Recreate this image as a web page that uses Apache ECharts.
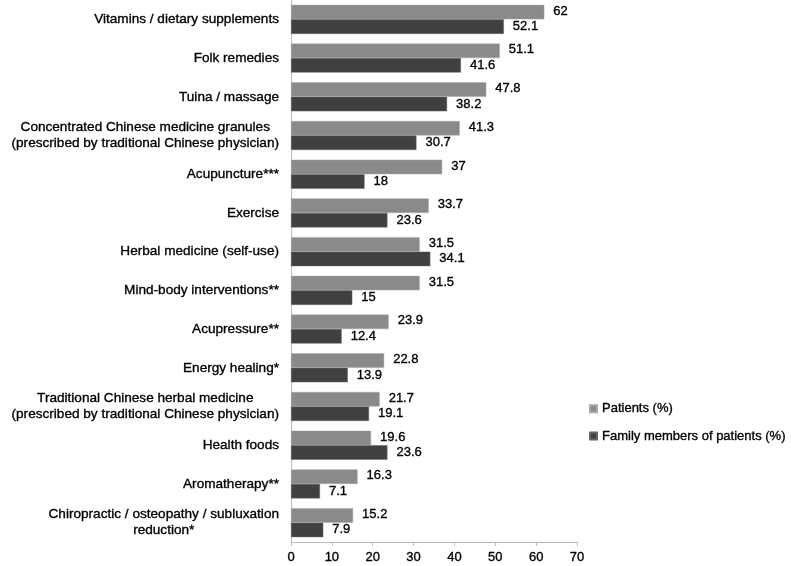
<!DOCTYPE html>
<html><head><meta charset="utf-8">
<script src="https://cdn.jsdelivr.net/npm/echarts@6/dist/echarts.min.js"></script>
<style>html,body{margin:0;padding:0;background:#fff}#c{width:791px;height:566px}</style>
</head><body><div id="c"></div>
<script>
const categories = [
  "Vitamins / dietary supplements",
  "Folk remedies",
  "Tuina / massage",
  "Concentrated Chinese medicine granules\n(prescribed by traditional Chinese physician)",
  "Acupuncture***",
  "Exercise",
  "Herbal medicine (self-use)",
  "Mind-body interventions**",
  "Acupressure**",
  "Energy healing*",
  "Traditional Chinese herbal medicine\n(prescribed by traditional Chinese physician)",
  "Health foods",
  "Aromatherapy**",
  "Chiropractic / osteopathy / subluxation\nreduction*"
];
const patients = [62, 51.1, 47.8, 41.3, 37, 33.7, 31.5, 31.5, 23.9, 22.8, 21.7, 19.6, 16.3, 15.2];
const family = [52.1, 41.6, 38.2, 30.7, 18, 23.6, 34.1, 15, 12.4, 13.9, 19.1, 23.6, 7.1, 7.9];
const xTicks = [0, 10, 20, 30, 40, 50, 60, 70];

const font = "Liberation Sans, Arial, sans-serif";
const heavy = {textBorderColor: '#000', textBorderWidth: 0.35};
const chart = echarts.init(document.getElementById('c'));
chart.setOption({
  animation: false,
  textStyle: {fontFamily: font},
  grid: {left: 291, top: 0, right: 214, bottom: 24, containLabel: false},
  legend: {
    orient: 'vertical', left: 589, top: 402, padding: 0, itemWidth: 7, itemHeight: 7, itemGap: 14,
    icon: 'rect',
    textStyle: Object.assign({fontFamily: font, fontSize: 13, color: '#000'}, heavy),
    data: ['Patients (%)', 'Family members of patients (%)']
  },
  xAxis: {
    type: 'value', min: xTicks[0], max: xTicks[xTicks.length - 1], interval: 10,
    axisLine: {show: true, lineStyle: {color: '#bbb'}},
    axisTick: {show: true, length: 4, lineStyle: {color: '#bbb'}},
    splitLine: {show: false},
    axisLabel: Object.assign({fontFamily: font, fontSize: 13, color: '#000', margin: 9}, heavy)
  },
  yAxis: {
    type: 'category', inverse: true, data: categories,
    axisLine: {show: true, lineStyle: {color: '#bbb'}},
    axisTick: {show: false},
    axisLabel: Object.assign({
      fontFamily: font, fontSize: 13.6, color: '#000', margin: 12, lineHeight: 16, align: 'right',
      formatter: function (v) { return v.split('\n').map(function (l) { return '{c|' + l + '}'; }).join('\n'); },
      rich: {c: Object.assign({fontFamily: font, fontSize: 13.6, color: '#000', align: 'center', lineHeight: 16}, heavy)}
    }, heavy)
  },
  series: [
    {
      name: 'Patients (%)', type: 'bar', data: patients, barGap: '0%', barCategoryGap: '25%',
      itemStyle: {color: '#8a8a8a', borderColor: '#a8a8a8', borderWidth: 0.5},
      label: Object.assign({show: true, position: 'right', distance: 9, fontFamily: font, fontSize: 13, color: '#000', offset: [0, -1]}, heavy)
    },
    {
      name: 'Family members of patients (%)', type: 'bar', data: family,
      itemStyle: {color: '#404040', borderColor: '#6a6a6a', borderWidth: 0.5},
      label: Object.assign({show: true, position: 'right', distance: 9, fontFamily: font, fontSize: 13, color: '#000', offset: [0, 0]}, heavy)
    }
  ]
});
</script></body></html>
